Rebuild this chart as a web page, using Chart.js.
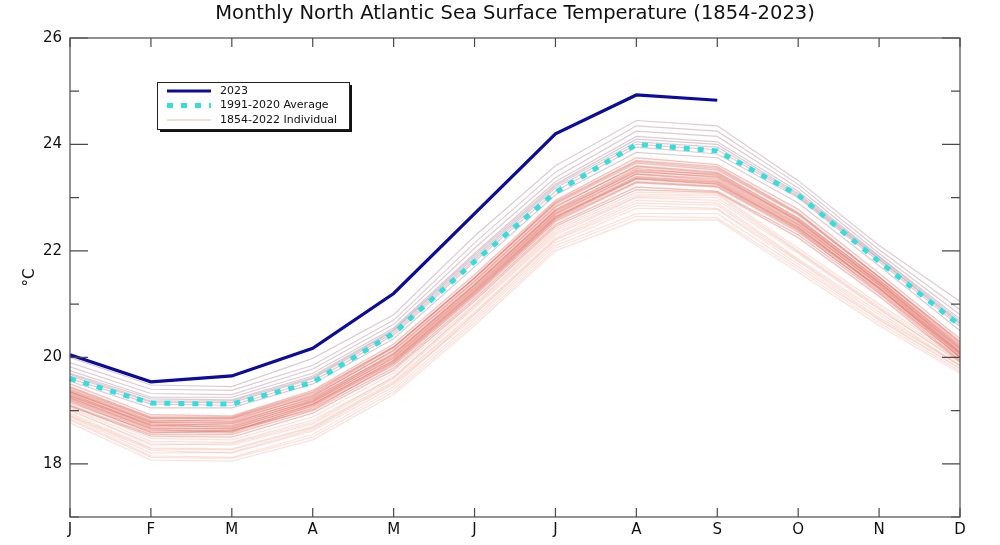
<!DOCTYPE html>
<html>
<head>
<meta charset="utf-8">
<script src="https://cdn.jsdelivr.net/npm/chart.js@4/dist/chart.umd.min.js"></script>
<style>
  html, body { margin: 0; padding: 0; background: #fff; }
  #wrap { width: 1000px; height: 545px; }
</style>
</head>
<body>
<div id="wrap"><canvas id="sstChart" width="1000" height="545"></canvas></div>
<script>
var months = ['J', 'F', 'M', 'A', 'M', 'J', 'J', 'A', 'S', 'O', 'N', 'D'];

var yTicks = [17, 18, 19, 20, 21, 22, 23, 24, 25, 26];

var titleText = 'Monthly North Atlantic Sea Surface Temperature (1854-2023)';

// 2023 (Jan - Sep only)
var year2023 = [20.05, 19.54, 19.65, 20.17, 21.20, 22.70, 24.20, 24.93, 24.83];

// 1991-2020 average
var average = [19.60, 19.14, 19.12, 19.53, 20.45, 21.80, 23.10, 24.00, 23.88, 23.05, 21.80, 20.60];

// individual years (cool early years)
var coolLines = [
    [18.77, 18.07, 18.05, 18.45, 19.30, 20.60, 22.00, 22.58, 22.58, 21.60, 20.60, 19.70],
    [18.82, 18.12, 18.10, 18.50, 19.35, 20.65, 22.05, 22.65, 22.62, 21.65, 20.65, 19.74],
    [18.85, 18.15, 18.12, 18.55, 19.40, 20.70, 22.10, 22.70, 22.70, 21.70, 20.70, 19.78],
    [18.88, 18.20, 18.22, 18.65, 19.50, 20.75, 22.15, 22.80, 22.78, 21.75, 20.72, 19.80],
    [18.90, 18.25, 18.20, 18.62, 19.45, 20.80, 22.20, 22.85, 22.80, 21.80, 20.75, 19.85],
    [18.92, 18.28, 18.26, 18.68, 19.52, 20.82, 22.22, 22.90, 22.86, 21.82, 20.80, 19.84],
    [18.95, 18.30, 18.28, 18.70, 19.55, 20.85, 22.25, 22.95, 22.90, 21.85, 20.85, 19.85],
    [19.00, 18.38, 18.35, 18.75, 19.60, 20.92, 22.30, 23.00, 22.95, 21.95, 20.90, 19.92],
    [19.02, 18.35, 18.38, 18.78, 19.64, 20.95, 22.34, 23.02, 23.00, 21.98, 20.92, 19.90],
    [19.05, 18.42, 18.40, 18.82, 19.62, 20.98, 22.38, 23.05, 23.05, 22.00, 20.95, 19.95],
    [19.10, 18.48, 18.45, 18.88, 19.70, 21.00, 22.42, 23.10, 23.08, 22.05, 21.00, 20.00]
];

// middle years (dense red band)
var midLines = [
    [19.08, 18.52, 18.50, 18.95, 19.76, 21.06, 22.46, 23.15, 23.10, 22.25, 21.15, 19.92],
    [19.10, 18.55, 18.55, 19.00, 19.80, 21.10, 22.50, 23.20, 23.12, 22.30, 21.20, 19.95],
    [19.15, 18.60, 18.58, 19.05, 19.85, 21.15, 22.55, 23.28, 23.20, 22.35, 21.25, 20.00],
    [19.18, 18.58, 18.62, 19.02, 19.88, 21.18, 22.58, 23.30, 23.22, 22.38, 21.22, 20.00],
    [19.20, 18.62, 18.62, 19.08, 19.90, 21.20, 22.60, 23.35, 23.25, 22.40, 21.28, 20.05],
    [19.22, 18.65, 18.60, 19.10, 19.92, 21.22, 22.62, 23.38, 23.28, 22.42, 21.30, 20.02],
    [19.24, 18.66, 18.66, 19.12, 19.94, 21.24, 22.64, 23.36, 23.26, 22.44, 21.32, 20.06],
    [19.25, 18.68, 18.65, 19.12, 19.95, 21.25, 22.65, 23.40, 23.30, 22.45, 21.30, 20.08],
    [19.28, 18.70, 18.70, 19.15, 20.00, 21.30, 22.70, 23.45, 23.35, 22.50, 21.35, 20.10],
    [19.27, 18.73, 18.68, 19.17, 19.98, 21.28, 22.68, 23.44, 23.32, 22.48, 21.36, 20.09],
    [19.30, 18.75, 18.72, 19.20, 20.02, 21.32, 22.72, 23.50, 23.38, 22.52, 21.38, 20.15],
    [19.32, 18.72, 18.75, 19.18, 20.05, 21.35, 22.75, 23.48, 23.40, 22.55, 21.40, 20.12],
    [19.34, 18.77, 18.76, 19.24, 20.06, 21.36, 22.76, 23.52, 23.44, 22.56, 21.41, 20.16],
    [19.35, 18.78, 18.78, 19.22, 20.08, 21.38, 22.78, 23.55, 23.42, 22.58, 21.42, 20.18],
    [19.38, 18.82, 18.80, 19.28, 20.12, 21.42, 22.82, 23.60, 23.48, 22.62, 21.45, 20.22],
    [19.36, 18.80, 18.83, 19.26, 20.14, 21.44, 22.84, 23.58, 23.46, 22.60, 21.46, 20.20],
    [19.40, 18.85, 18.85, 19.30, 20.18, 21.48, 22.88, 23.65, 23.52, 22.68, 21.50, 20.25],
    [19.43, 18.86, 18.86, 19.33, 20.19, 21.49, 22.90, 23.68, 23.55, 22.70, 21.51, 20.28],
    [19.45, 18.88, 18.88, 19.35, 20.20, 21.50, 22.92, 23.70, 23.58, 22.72, 21.52, 20.30],
    [19.50, 18.92, 18.90, 19.38, 20.25, 21.55, 22.95, 23.75, 23.62, 22.78, 21.58, 20.35]
];

// recent warm years (greyish top band)
var warmLines = [
    [19.55, 19.05, 19.05, 19.50, 20.35, 21.70, 23.05, 23.85, 23.75, 22.90, 21.72, 20.50],
    [19.60, 19.12, 19.10, 19.55, 20.42, 21.80, 23.12, 23.95, 23.82, 23.00, 21.80, 20.58],
    [19.65, 19.16, 19.15, 19.60, 20.46, 21.84, 23.18, 24.00, 23.90, 23.02, 21.84, 20.62],
    [19.68, 19.18, 19.18, 19.62, 20.50, 21.88, 23.22, 24.05, 23.95, 23.05, 21.85, 20.65],
    [19.70, 19.22, 19.20, 19.65, 20.52, 21.92, 23.25, 24.10, 24.00, 23.08, 21.88, 20.68],
    [19.75, 19.25, 19.25, 19.70, 20.55, 21.95, 23.30, 24.15, 24.05, 23.12, 21.90, 20.72],
    [19.82, 19.32, 19.30, 19.78, 20.62, 22.05, 23.38, 24.25, 24.15, 23.18, 21.95, 20.80],
    [19.90, 19.40, 19.38, 19.85, 20.70, 22.15, 23.48, 24.35, 24.25, 23.25, 22.02, 20.90],
    [20.00, 19.48, 19.45, 19.98, 20.80, 22.28, 23.60, 24.45, 24.35, 23.32, 22.10, 21.05]
];

var FONT = 'DejaVu Sans';
var AXIS_COLOR = '#4a4a4a';

function lineSet(values, color, width) {
    return {
        data: values,
        borderColor: color,
        borderWidth: width,
        pointRadius: 0,
        fill: false,
        tension: 0
    };
}

var datasets = [];
datasets.push(lineSet(year2023, '#0c0c9c', 3.2));
var avg = lineSet(average, '#35dede', 5);
avg.borderDash = [6, 8];
datasets.push(avg);
warmLines.forEach(function (v) { datasets.push(lineSet(v, 'rgba(160, 105, 125, 0.35)', 1.2)); });
midLines.forEach(function (v) { datasets.push(lineSet(v, 'rgba(220, 90, 75, 0.36)', 1.4)); });
coolLines.forEach(function (v) { datasets.push(lineSet(v, 'rgba(238, 160, 140, 0.30)', 1.3)); });

// title, frame and inward tick marks
var frameTicks = {
    id: 'frameTicks',
    afterDraw: function (chart) {
        var ctx = chart.ctx;
        var a = chart.chartArea;
        var x = chart.scales.x, y = chart.scales.y;
        ctx.save();
        ctx.fillStyle = '#111';
        ctx.font = '19.5px "' + FONT + '"';
        ctx.textAlign = 'center';
        ctx.textBaseline = 'middle';
        ctx.fillText(titleText, (a.left + a.right) / 2, 14);

        ctx.strokeStyle = AXIS_COLOR;
        ctx.lineWidth = 1.2;
        ctx.strokeRect(a.left, a.top, a.right - a.left, a.bottom - a.top);
        ctx.beginPath();
        yTicks.forEach(function (v) {
            var py = y.getPixelForValue(v);
            var len = (v % 2 === 0) ? 18 : 9;
            ctx.moveTo(a.left, py); ctx.lineTo(a.left + len, py);
            ctx.moveTo(a.right, py); ctx.lineTo(a.right - len, py);
        });
        months.forEach(function (m, i) {
            var px = x.getPixelForValue(i);
            ctx.moveTo(px, a.bottom); ctx.lineTo(px, a.bottom - 9);
            ctx.moveTo(px, a.top); ctx.lineTo(px, a.top + 9);
        });
        ctx.stroke();
        ctx.restore();
    }
};

// boxed legend with drop shadow
var boxLegend = {
    id: 'boxLegend',
    afterDraw: function (chart) {
        var ctx = chart.ctx;
        var bx = 157, by = 82, bw = 192, bh = 47;
        ctx.save();
        ctx.fillStyle = '#111';
        ctx.fillRect(bx + 3, by + 3, bw, bh);
        ctx.fillStyle = '#fff';
        ctx.fillRect(bx, by, bw, bh);
        ctx.strokeStyle = '#222';
        ctx.lineWidth = 1;
        ctx.strokeRect(bx + 0.5, by + 0.5, bw, bh);

        var items = [
            { text: '2023', color: '#0c0c9c', width: 3, dash: [] },
            { text: '1991-2020 Average', color: '#35dede', width: 5, dash: [6, 8] },
            { text: '1854-2022 Individual', color: 'rgba(215, 140, 120, 0.6)', width: 1, dash: [] }
        ];
        ctx.font = '11px "' + FONT + '"';
        ctx.textBaseline = 'middle';
        items.forEach(function (it, i) {
            var ly = by + 9 + i * 14.5;
            ctx.beginPath();
            ctx.setLineDash(it.dash);
            ctx.strokeStyle = it.color;
            ctx.lineWidth = it.width;
            ctx.moveTo(bx + 10, ly);
            ctx.lineTo(bx + 54, ly);
            ctx.stroke();
            ctx.setLineDash([]);
            ctx.fillStyle = '#111';
            ctx.fillText(it.text, bx + 63, ly);
        });
        ctx.restore();
    }
};

var ctx = document.getElementById('sstChart').getContext('2d');
var chart = new Chart(ctx, {
    type: 'line',
    data: {
        labels: months,
        datasets: datasets
    },
    options: {
        responsive: false,
        animation: false,
        events: [],
        layout: { padding: { left: 0, right: 40, top: 38, bottom: 0 } },
        plugins: {
            legend: { display: false },
            tooltip: { enabled: false },
            title: { display: false }
        },
        scales: {
            x: {
                offset: false,
                grid: { display: false, drawTicks: false },
                border: { display: false },
                ticks: {
                    color: '#111',
                    padding: 4,
                    maxRotation: 0,
                    autoSkip: false,
                    font: { family: FONT, size: 15 }
                },
                afterFit: function (scale) { scale.height = 28; }
            },
            y: {
                min: 17,
                max: 26,
                grid: { display: false, drawTicks: false },
                border: { display: false },
                ticks: {
                    stepSize: 1,
                    color: '#111',
                    padding: 8,
                    font: { family: FONT, size: 15 },
                    callback: function (v) { return v % 2 === 0 ? v : ''; }
                },
                title: {
                    display: true,
                    text: '°C',
                    color: '#111',
                    font: { family: FONT, size: 15 },
                    padding: { top: 21, bottom: 0 }
                },
                afterFit: function (scale) { scale.width = 70; }
            }
        }
    },
    plugins: [frameTicks, boxLegend]
});
</script>
</body>
</html>
